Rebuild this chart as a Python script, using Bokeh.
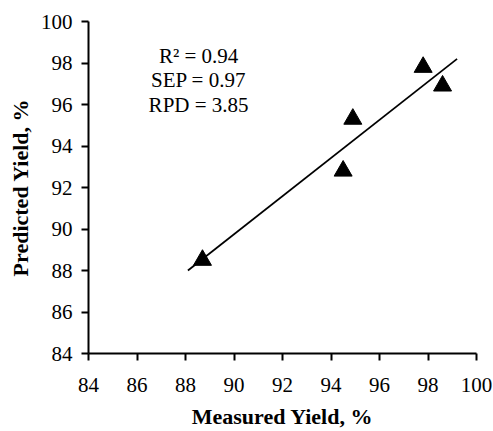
from bokeh.plotting import figure
from bokeh.models import Range1d, FixedTicker, ColumnDataSource
from bokeh.core.properties import value
from bokeh.embed import file_html
from bokeh.resources import INLINE

# Data
measured = [88.7, 94.5, 94.9, 97.8, 98.6]
predicted = [88.5, 92.8, 95.3, 97.8, 96.9]
fit_x = [88.1, 99.2]
fit_y = [88.0, 98.2]
ticks = [84, 86, 88, 90, 92, 94, 96, 98, 100]
stats_lines = ["R\u00b2 = 0.94", "SEP = 0.97", "RPD = 3.85"]

FONT = "Liberation Serif"

p = figure(width=493, height=431, output_backend="svg", toolbar_location=None,
           x_range=Range1d(84, 100), y_range=Range1d(84, 100),
           min_border_left=88, min_border_top=21, min_border_right=17, min_border_bottom=78)
p.outline_line_color = None
p.background_fill_color = "white"
p.border_fill_color = "white"
p.xgrid.visible = False
p.ygrid.visible = False

for ax in (p.xaxis[0], p.yaxis[0]):
    ax.ticker = FixedTicker(ticks=ticks)
    ax.minor_tick_line_color = None
    ax.major_tick_in = 0
    ax.major_tick_out = 7
    ax.major_tick_line_width = 2
    ax.axis_line_width = 2
    ax.axis_line_color = "black"
    ax.major_tick_line_color = "black"
    ax.major_label_text_font = FONT
    ax.major_label_text_font_size = "21px"
    ax.major_label_text_color = "black"
    ax.axis_label_text_font = FONT
    ax.axis_label_text_font_size = "22px"
    ax.axis_label_text_font_style = "bold"
    ax.axis_label_text_color = "black"

p.xaxis.axis_label = "Measured Yield, %"
p.yaxis.axis_label = "Predicted Yield, %"
p.xaxis.major_label_standoff = 17
p.yaxis.major_label_standoff = 9
p.xaxis.axis_label_standoff = 9
p.yaxis.axis_label_standoff = 5

p.line(fit_x, fit_y, line_color="black", line_width=1.75)
src = ColumnDataSource(dict(x=measured, y=predicted))
p.scatter("x", "y", source=src, marker="triangle", size=18,
          fill_color="black", line_color="black")

ann_x = 88.54
ann_y = [98.36, 97.16, 96.0]
p.text(x=[ann_x] * 3, y=ann_y, text=stats_lines, text_font=value(FONT),
       text_font_size="21px", text_align="center", text_baseline="middle",
       text_color="black")

open("out.html", "w").write(file_html(p, INLINE))
